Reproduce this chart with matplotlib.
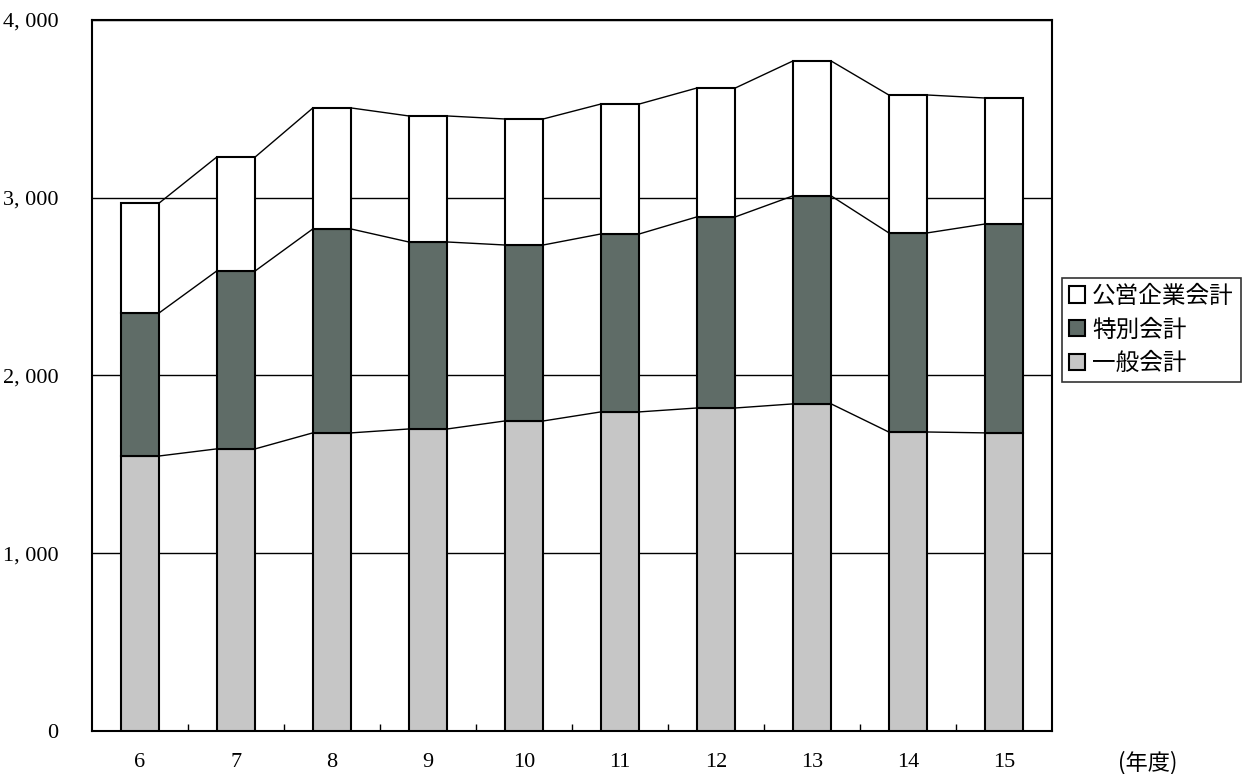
import numpy as np
import matplotlib.pyplot as plt

# 年度と会計別の値
years = ["6", "7", "8", "9", "10", "11", "12", "13", "14", "15"]
general = [1547, 1587, 1677, 1699, 1744, 1795, 1817, 1840, 1682, 1677]
special = [805, 1001, 1147, 1052, 990, 1001, 1075, 1170, 1120, 1175]
enterprise = [618, 641, 681, 709, 709, 731, 725, 759, 776, 709]

labels = ["一般会計", "特別会計", "公営企業会計"]
colors = ["#c6c6c6", "#5f6c67", "white"]

plt.rcParams['font.family'] = ['Noto Sans CJK JP', 'DejaVu Sans']

fig = plt.figure(figsize=(12.46, 7.74), dpi=100)
ax = fig.add_axes([0.0738, 0.0556, 0.7705, 0.9186])

x = np.arange(len(years))
width = 0.4
series = [general, special, enterprise]
bottom = np.zeros(len(years))
handles = []
for vals, lab, col in zip(series, labels, colors):
    vals = np.array(vals)
    h = ax.bar(x, vals, width, bottom=bottom, color=col, edgecolor="black",
               linewidth=1.5, label=lab, zorder=3)
    handles.append(h)
    top = bottom + vals
    # 系列線: 棒の右端から次の棒の左端へ
    for i in range(len(years) - 1):
        ax.plot([x[i] + width / 2, x[i + 1] - width / 2], [top[i], top[i + 1]],
                color="black", linewidth=1.0, zorder=2)
    bottom = top

yt = [0, 1000, 2000, 3000, 4000]
ax.set_xlim(-0.5, len(years) - 0.5)
ax.set_ylim(0, 4000)
ax.set_yticks(yt)
ax.set_yticklabels([f"{v:,}".replace(",", ", ") for v in yt],
                   family="Liberation Serif", fontsize=16)
ax.set_xticks(x)
ax.set_xticklabels(years, family="Liberation Serif", fontsize=16)
ax.set_xticks(x[:-1] + 0.5, minor=True)
ax.tick_params(axis="x", which="major", length=0, pad=16)
ax.tick_params(axis="x", which="minor", direction="in", length=5, width=1)
ax.tick_params(axis="y", length=0, pad=24)
ax.grid(axis="y", color="black", linewidth=1.0, zorder=1)
ax.set_axisbelow(True)
for s in ax.spines.values():
    s.set_linewidth(1.5)

ax.text(1.1, -0.045, "(年度)", transform=ax.transAxes, fontsize=16,
        ha="center", va="center")

leg = ax.legend(handles[::-1], labels[::-1], loc="center left",
                bbox_to_anchor=(1.01, 0.564), fontsize=17, frameon=True,
                fancybox=False, edgecolor="black", handlelength=0.7,
                handleheight=0.7, handletextpad=0.3, borderpad=0.3,
                labelspacing=0.45, borderaxespad=0)
leg.get_frame().set_linewidth(1.2)

fig.savefig("out.png", dpi=100)
